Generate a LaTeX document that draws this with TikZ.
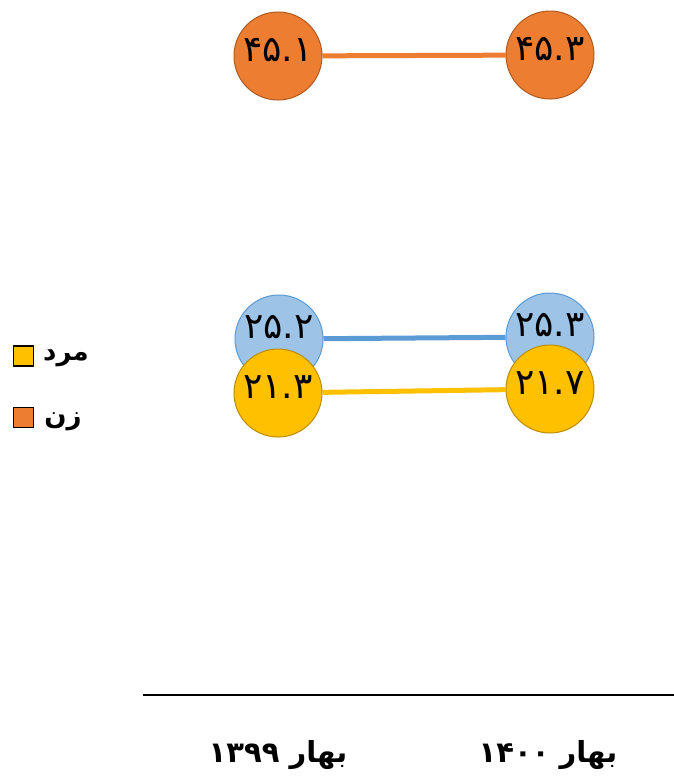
\documentclass[tikz,border=0pt]{standalone}
\usepackage{fontspec}
\newfontfamily\arabicfont[Script=Arabic]{DejaVu Sans}
\TeXXeTstate=1
\definecolor{orfill}{HTML}{ED7D31}
\definecolor{ordraw}{HTML}{AE5A21}
\definecolor{blfill}{HTML}{9DC3E6}
\definecolor{bldraw}{HTML}{5B9BD5}
\definecolor{yefill}{HTML}{FFC000}
\definecolor{yedraw}{HTML}{BC8C00}
\pgfdeclarelayer{back}
\pgfdeclarelayer{bg}
\pgfsetlayers{back,bg,main}
\tikzset{
  dot/.style={circle,minimum size=88pt,inner sep=0pt,line width=1pt},
  ordot/.style={dot,fill=orfill,draw=ordraw},
  bldot/.style={dot,fill=blfill,draw=bldraw},
  yedot/.style={dot,fill=yefill,draw=yedraw},
  val/.style={font=\arabicfont\fontsize{36}{40}\selectfont},
  conn/.style={line width=5pt},
  legbox/.style={draw=black,line width=1.2pt,minimum size=20pt,inner sep=0pt},
  legtxt/.style={font=\arabicfont\bfseries\fontsize{26}{30}\selectfont,anchor=center},
  yeartxt/.style={font=\arabicfont\bfseries\fontsize{29}{33}\selectfont,anchor=center}
}
\begin{document}
\begin{tikzpicture}[x=1pt,y=-1pt]
\begin{pgfonlayer}{back}
\fill[white] (0,0) rectangle (674,777);
\end{pgfonlayer}
\useasboundingbox (0,0) rectangle (674,777);
% circles
\node[ordot,label={[val,yshift=6pt]center:۴۵.۱}] (o1) at (278,56) {};
\node[ordot,label={[val,yshift=6pt]center:۴۵.۳}] (o2) at (550,55) {};
\node[bldot,label={[val,yshift=12pt]center:۲۵.۲}] (b1) at (279,339) {};
\node[bldot,label={[val,yshift=12pt]center:۲۵.۳}] (b2) at (550,337) {};
\node[yedot,label={[val,yshift=6pt]center:۲۱.۳}] (y1) at (278,393) {};
\node[yedot,label={[val,yshift=6pt]center:۲۱.۷}] (y2) at (550,389) {};
% connectors
\begin{pgfonlayer}{bg}
\draw[conn,draw=orfill] (o1) -- (o2);
\draw[conn,draw=bldraw] (b1) -- (b2);
\draw[conn,draw=yefill] (y1) -- (y2);
\end{pgfonlayer}
% legend
\node[legbox,fill=yefill] (lm) at (23.5,356) {};
\node[legtxt] (tm) at (66,358) {\beginR مرد\endR};
\node[legbox,fill=orfill] (lz) at (23.5,417.5) {};
\node[legtxt] (tz) at (63,422) {\beginR زن\endR};
% axis
\coordinate (axl) at (143,695);
\coordinate (axr) at (674,695);
\draw[line width=1.8pt] (axl) -- (axr);
\node[yeartxt] (y99) at (278,755) {\beginR بهار \beginL۱۳۹۹\endL\endR};
\node[yeartxt] (y00) at (548,755) {\beginR بهار \beginL۱۴۰۰\endL\endR};
\end{tikzpicture}
\end{document}
